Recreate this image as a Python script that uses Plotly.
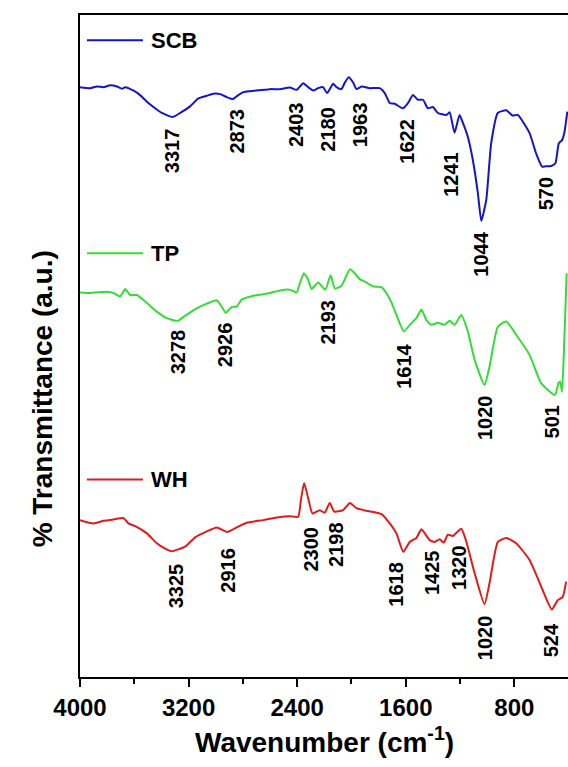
import numpy as np
import plotly.graph_objects as go

# FTIR spectra: wavenumber (cm-1) and transmittance (a.u.), stacked for display
SCB_WN = [4000, 3924, 3875, 3826, 3777, 3728, 3691, 3667, 3608, 3557, 3507, 3459, 3397, 3317,
          3262, 3189, 3128, 3066, 3018, 2968, 2919, 2873, 2834, 2797, 2699, 2601, 2527, 2454,
          2403, 2356, 2319, 2282, 2246, 2209, 2180, 2135, 2110, 2074, 2049, 2020, 1988, 1963,
          1926, 1865, 1792, 1755, 1718, 1682, 1622, 1584, 1547, 1510, 1473, 1437, 1400, 1363,
          1301, 1277, 1241, 1204, 1179, 1143, 1106, 1069, 1044, 1007, 971, 922, 860, 812, 775,
          689, 640, 596, 570, 529, 498, 473, 449, 432, 410]
SCB_T = [89.1, 88.95, 89.2, 89.1, 89.4, 89.2, 88.85, 89.1, 88.6, 87.9, 86.9, 86.1, 85.2, 84.6,
         85.2, 86.2, 87.4, 87.8, 88.1, 88.05, 87.6, 87.3, 87.9, 88.35, 88.6, 88.8, 88.8, 89.05,
         88.7, 89.7, 89.1, 88.6, 88.95, 89.1, 88.2, 89.6, 89.1, 88.8, 89.8, 90.6, 89.8, 88.8,
         89.2, 88.95, 88.95, 88.2, 86.7, 86.6, 85.9, 86.7, 87.9, 87.2, 87.2, 85.9, 86.1, 85.2,
         84.9, 85.3, 82.2, 84.9, 83.7, 81.6, 78.1, 73.1, 68.9, 72.1, 80.6, 85.2, 85.6, 84.8, 84.9,
         82.2, 79.1, 77.1, 77.15, 77.2, 77.6, 80.6, 81.1, 82.2, 85.4]

TP_WN = [4000, 3924, 3875, 3801, 3753, 3704, 3667, 3630, 3581, 3507, 3434, 3360, 3278, 3238,
         3140, 3066, 2993, 2956, 2926, 2882, 2846, 2809, 2723, 2601, 2527, 2454, 2404, 2380,
         2351, 2319, 2294, 2246, 2193, 2154, 2123, 2074, 2012, 1976, 1939, 1890, 1841, 1779,
         1743, 1706, 1669, 1614, 1571, 1522, 1485, 1448, 1412, 1363, 1314, 1277, 1240, 1191,
         1143, 1093, 1020, 983, 922, 860, 787, 689, 603, 501, 475, 463, 449, 432, 415]
TP_T = [58.1, 58.0, 58.1, 58.2, 58.0, 57.5, 58.6, 57.7, 57.7, 56.5, 55.2, 54.2, 53.8, 54.4,
        55.7, 56.4, 56.9, 55.95, 55.0, 55.9, 55.95, 57.0, 57.6, 58.0, 58.4, 58.5, 58.1, 59.5,
        61.0, 60.0, 58.6, 59.6, 58.5, 60.7, 58.7, 59.1, 61.6, 61.0, 60.1, 59.6, 59.0, 58.9,
        58.0, 56.6, 54.7, 52.2, 53.2, 54.2, 55.5, 53.9, 53.2, 53.5, 53.2, 53.8, 53.2, 54.7,
        52.2, 47.9, 44.1, 46.9, 52.9, 53.7, 51.7, 48.7, 44.4, 42.6, 44.4, 44.6, 43.1, 50.9, 61.0]

WH_WN = [4000, 3900, 3826, 3753, 3679, 3643, 3593, 3507, 3434, 3373, 3325, 3226, 3152, 3066,
         2993, 2916, 2846, 2772, 2650, 2551, 2454, 2393, 2373, 2349, 2319, 2287, 2233, 2198,
         2160, 2128, 2062, 2012, 1963, 1890, 1779, 1718, 1669, 1618, 1571, 1522, 1485, 1425,
         1387, 1351, 1320, 1290, 1253, 1191, 1155, 1093, 1020, 983, 922, 860, 787, 689, 591,
         524, 481, 444, 419]
WH_T = [23.7, 23.2, 23.6, 23.8, 24.0, 23.2, 22.8, 21.7, 20.2, 19.4, 19.0, 19.7, 21.1, 22.0,
        22.6, 21.9, 22.6, 23.3, 23.7, 24.1, 24.3, 24.2, 26.7, 29.3, 27.0, 24.7, 25.2, 24.8,
        26.3, 25.0, 25.2, 26.3, 25.5, 25.1, 24.6, 23.2, 21.7, 18.9, 20.4, 21.0, 22.3, 20.7,
        20.4, 20.8, 20.3, 21.5, 21.3, 22.4, 20.5, 15.7, 11.0, 14.2, 20.4, 21.0, 20.2, 17.7, 13.1,
        10.2, 11.6, 12.1, 14.4]

# Band assignments labelled on each spectrum (cm-1)
SCB_PEAKS = [3317, 2873, 2403, 2180, 1963, 1622, 1241, 1044, 570]
TP_PEAKS = [3278, 2926, 2193, 1614, 1020, 501]
WH_PEAKS = [3325, 2916, 2300, 2198, 1618, 1425, 1320, 1020, 524]

SERIES_NAMES = ["SCB", "TP", "WH"]
X_TICKS = [4000, 3200, 2400, 1600, 800]

# ---- styling ----
FONT = "Liberation Sans, Arial, sans-serif"
COLORS = {"SCB": "#1414c8", "TP": "#33dd33", "WH": "#e01b1b"}
LEGEND_Y = {"SCB": 0.962, "TP": 0.640, "WH": 0.2985}
# per-label (xshift px, gap below curve px)
LABEL_OFFSETS = {
    "SCB": {3317: (0, 9), 2873: (4, 7), 2403: (0, 10), 2180: (1, 12), 1963: (3, 11),
            1622: (4, 8), 1241: (-3, 17), 1044: (0, 9), 570: (0, 9)},
    "TP": {3278: (0, 7), 2926: (0, 7), 2193: (3, 8), 1614: (0, 10), 1020: (0, 8), 501: (-2, 8)},
    "WH": {3325: (4, 10), 2916: (0, 14), 2300: (0, 17), 2198: (12, 7), 1618: (-7, 8),
           1425: (3, 8), 1320: (15, 0), 1020: (0, 9), 524: (0, 12)},
}

data = {
    "SCB": (SCB_WN, SCB_T, SCB_PEAKS),
    "TP": (TP_WN, TP_T, TP_PEAKS),
    "WH": (WH_WN, WH_T, WH_PEAKS),
}

fig = go.Figure()
annotations = []
shapes = []

for name in SERIES_NAMES:
    wn, t, peaks = data[name]
    color = COLORS[name]
    fig.add_trace(go.Scatter(x=wn, y=t, mode="lines", name=name,
                             line=dict(color=color, width=2, shape="spline", smoothing=0.5),
                             showlegend=False))
    wn_arr = np.array(wn[::-1], dtype=float)
    t_arr = np.array(t[::-1], dtype=float)
    for p in peaks:
        yv = float(np.interp(p, wn_arr, t_arr))
        dx, gap = LABEL_OFFSETS[name][p]
        annotations.append(dict(
            x=p, y=yv, xref="x", yref="y", text=str(p), showarrow=False,
            textangle=-90, xanchor="center", yanchor="top", xshift=dx, yshift=-gap,
            font=dict(family=FONT, size=20, color="black", weight="bold"),
        ))
    # inline legend: line sample + label
    ly = LEGEND_Y[name]
    shapes.append(dict(type="line", xref="paper", yref="paper", x0=0.0143, x1=0.129,
                       y0=ly, y1=ly, line=dict(color=color, width=2)))
    annotations.append(dict(x=0.141, y=ly, xref="paper", yref="paper", text=name,
                            showarrow=False, xanchor="left", yanchor="middle",
                            font=dict(family=FONT, size=22, color="black", weight="bold")))

# axis titles
annotations.append(dict(x=0.5, y=-0.095, xref="paper", yref="paper",
                        text="Wavenumber (cm<sup>-1</sup>)", showarrow=False,
                        xanchor="center", yanchor="middle",
                        font=dict(family=FONT, size=28, color="black", weight="bold")))
annotations.append(dict(x=-0.075, y=0.42, xref="paper", yref="paper",
                        text="% Transmittance (a.u.)", showarrow=False, textangle=-90,
                        xanchor="center", yanchor="middle",
                        font=dict(family=FONT, size=28, color="black", weight="bold")))

fig.update_layout(
    width=568, height=767,
    margin=dict(l=80, r=0, t=15, b=90),
    paper_bgcolor="white", plot_bgcolor="white",
    showlegend=False,
    annotations=annotations,
    shapes=shapes,
    xaxis=dict(
        range=[4000, 405], tickvals=X_TICKS, ticktext=[str(v) for v in X_TICKS],
        ticks="outside", ticklen=8, tickwidth=2, tickcolor="black",
        showline=True, linewidth=2, linecolor="black", mirror=True,
        showgrid=False, zeroline=False,
        tickfont=dict(family=FONT, size=24, color="black", weight="bold"),
        minor=dict(tickvals=[3600, 2800, 2000, 1200], ticks="outside", ticklen=5,
                   tickwidth=2, tickcolor="black", showgrid=False),
    ),
    yaxis=dict(
        range=[0, 100], showticklabels=False, ticks="",
        showline=True, linewidth=2, linecolor="black", mirror=False,
        showgrid=False, zeroline=False,
    ),
)

fig.write_html("out.html")
